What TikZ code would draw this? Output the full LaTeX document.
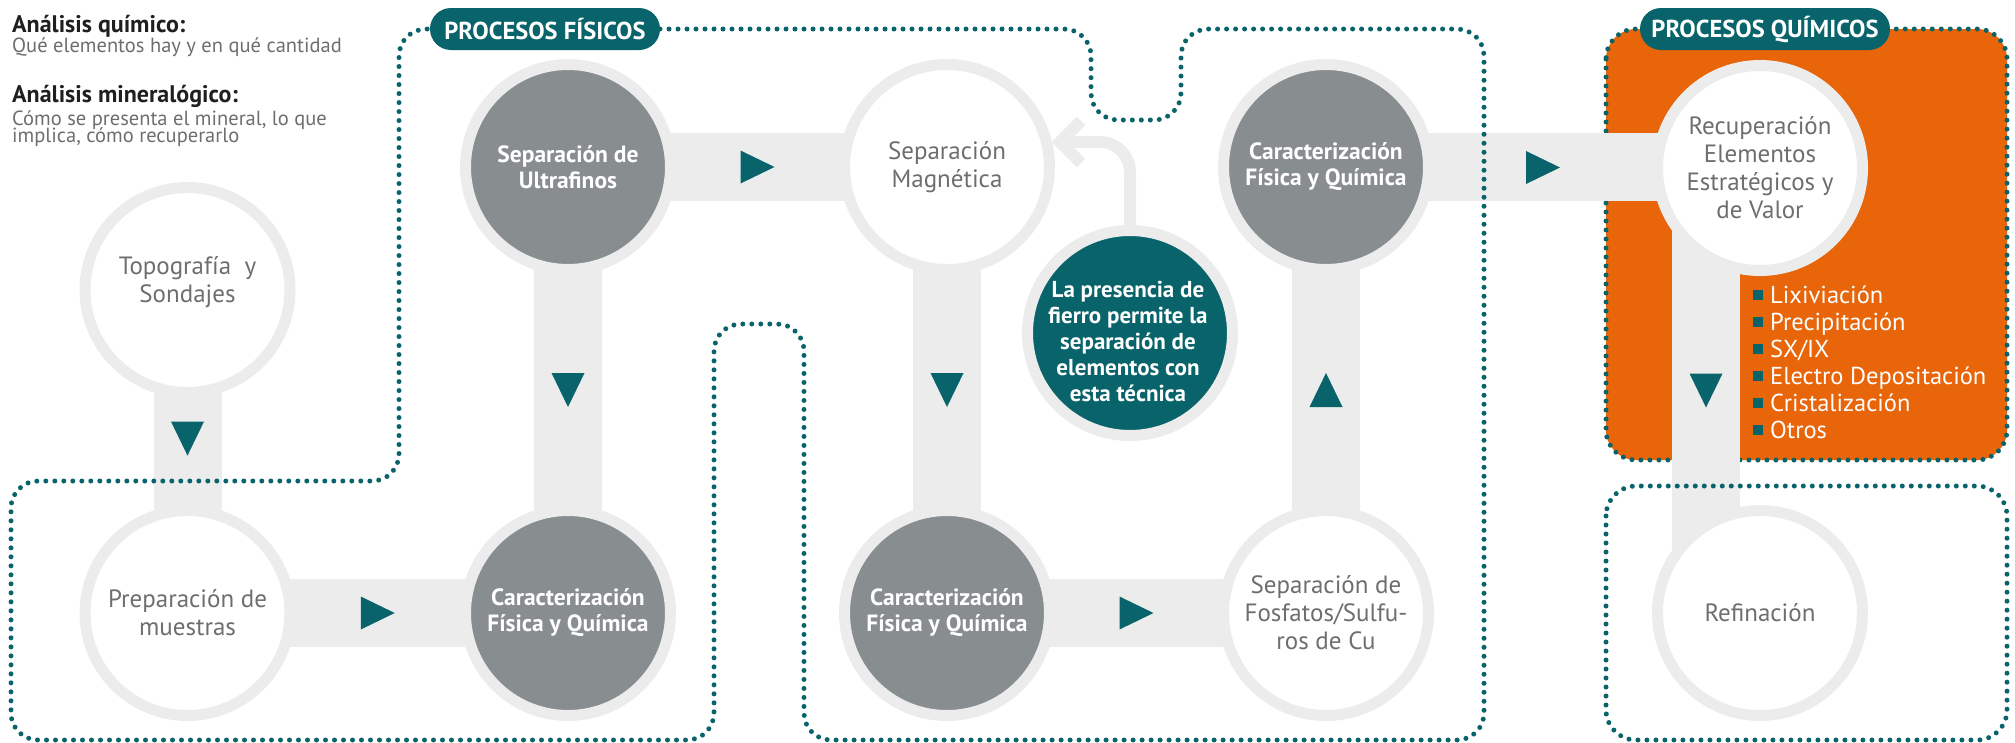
\documentclass[tikz,border=0pt]{standalone}
\usepackage{fontspec}
\setmainfont{PT Sans}
\usetikzlibrary{calc}
\definecolor{tealc}{HTML}{08646A}
\definecolor{ringc}{HTML}{ECECEC}
\definecolor{grayc}{HTML}{888D90}
\definecolor{txtgray}{HTML}{6D6E70}
\definecolor{orangec}{HTML}{E8650A}
\pgfdeclarelayer{bg}
\pgfdeclarelayer{bars}
\pgfsetlayers{bg,bars,main}
\begin{document}
\begin{tikzpicture}[x=1pt,y=-1pt,
  stage/.style={circle, minimum size=205pt, inner sep=0pt, draw=ringc, line width=11pt, align=center},
  whitefont/.style={text=txtgray, font=\fontsize{25}{28}\selectfont},
  whitest/.style={stage, fill=white, whitefont},
  grayst/.style={stage, fill=grayc, text=white, font=\bfseries\fontsize{23.5}{26}\selectfont},
  tealfont/.style={text=white, font=\bfseries\fontsize{23}{26}\selectfont},
  tealst/.style={stage, fill=tealc},
  bodytext/.style={inner sep=0pt, align=center},
  bar/.style={draw=ringc, line width=68pt},
  hookline/.style={draw=ringc, line width=12pt},
  dotline/.style={draw=tealc, line width=5pt, line cap=round, dash pattern=on 0pt off 9pt},
  pill/.style={fill=tealc, text=white, rounded corners=21pt, minimum height=42pt, inner sep=0pt, font=\bfseries\fontsize{24.5}{27}\selectfont},
  listitem/.style={anchor=base west, inner sep=0pt, text=white, font=\fontsize{24.5}{27}\selectfont},
  title/.style={anchor=base west, inner sep=0pt, text=black!88, font=\bfseries\fontsize{24}{27}\selectfont},
  subtitle/.style={anchor=base west, inner sep=0pt, text=txtgray, font=\fontsize{20.5}{22}\selectfont},
  tri/.pic={\fill[tealc] (17,0) -- (-17,-16.5) -- (-17,16.5) -- cycle;}
]
\useasboundingbox (0,0) rectangle (2015,742);

% orange chemical box (below bars)
\begin{pgfonlayer}{bg}
  \draw[dotline, fill=orangec, rounded corners=30pt] (1606,29) rectangle (2007,460);
\end{pgfonlayer}

% stages
\node[whitest] (topo)  at (187.5,290) {};
\node[bodytext, whitefont] (topot) at (187.5,282) {Topografía~~y\\Sondajes};
\node[whitest] (prep)  at (187.5,613) {Preparación de\\muestras};
\node[grayst]  (car1)  at (568,613)   {Caracterización\\Física y Química};
\node[grayst]  (ultra) at (568,167)   {Separación de\\Ultrafinos};
\node[whitest] (mag)   at (947,167)   {Separación\\Magnética};
\node[grayst]  (car2)  at (947,613)   {Caracterización\\Física y Química};
\node[tealst]  (tealn) at (1130,333)  {};
\node[bodytext, tealfont] (tealt) at (1128,341) {La presencia de\\fierro permite la\\separación de\\elementos con\\esta técnica};
\node[grayst]  (car3)  at (1326,167)  {Caracterización\\Física y Química};
\node[whitest] (fosf)  at (1326,613)  {Separación de\\Fosfatos/Sulfu-\\ros de Cu};
\node[whitest] (recup) at (1760,168)  {Recuperación\\Elementos\\Estratégicos y\\de Valor};
\node[whitest] (refin) at (1760,613)  {Refinación};

% connecting bars
\begin{pgfonlayer}{bars}
  \draw[bar] (topo.center) -- (prep.center);
  \draw[bar] (prep.center) -- (car1.center);
  \draw[bar] (car1.center) -- (ultra.center);
  \draw[bar] (ultra.center) -- (mag.center);
  \draw[bar] (mag.center) -- (car2.center);
  \draw[bar] (car2.center) -- (fosf.center);
  \draw[bar] (fosf.center) -- (car3.center);
  \draw[bar] (car3.center) -- (car3.center -| recup.center);
  \draw[bar] ($(recup.center)+(-54,0)$) -- ($(refin.center)+(-54,0)$);
  \draw[hookline, rounded corners=30pt] (tealn.center) |- ($(mag.center)+(112,-25)$);
  \draw[hookline] ($(mag.center)+(134,-46)$) -- ($(mag.center)+(113,-25)$) -- ($(mag.center)+(134,-4)$);
\end{pgfonlayer}

% flow triangles
\pic[rotate=-90] at ($(topo.center)!0.46!(prep.center)$) {tri};
\pic at ($(prep.center)!0.5!(car1.center)$) {tri};
\pic[rotate=-90] at ($(ultra.center)!0.5!(car1.center)$) {tri};
\pic at ($(ultra.center)!0.5!(mag.center)$) {tri};
\pic[rotate=-90] at ($(mag.center)!0.5!(car2.center)$) {tri};
\pic at ($(car2.center)!0.5!(fosf.center)$) {tri};
\pic[rotate=90] at ($(fosf.center)!0.5!(car3.center)$) {tri};
\pic at ($(car3.center)!0.5!(recup.center)$) {tri};
\pic[rotate=-90] at ($(recup.center)!0.5!(refin.center)+(-54,0)$) {tri};

% physical processes outline
\draw[dotline, rounded corners=27pt] (660,29) -- (1091,29) -- (1091,120) -- (1181,120) -- (1181,29)
  -- (1484,29) -- (1484,740) -- (804,740) -- (804,324) -- (714,324) -- (714,740)
  -- (11,740) -- (11,481) -- (399,481) -- (399,29) -- (430,29);

% refining outline
\draw[dotline, rounded corners=30pt] (1606,486) rectangle (2007,740);

% labels
\node[pill, minimum width=230pt] (lphys) at (545,29) {PROCESOS FÍSICOS};
\node[pill, minimum width=250pt] (lchem) at (1765,29) {PROCESOS QUÍMICOS};

% chemical process list
\foreach \t [count=\i] in {Lixiviación, Precipitación, SX/IX, Electro Depositación, Cristalización, Otros}{
  \node[listitem] (li\i) at (1753, {303+27*(\i-1)}) {\textcolor{tealc}{\rule[3pt]{10pt}{10pt}}\hspace{7pt}\t};
}

% top-left notes
\node[title] (n1) at (12,32) {Análisis químico:};
\node[subtitle] (n2) at (12,52) {Qué elementos hay y en qué cantidad};
\node[title] (n3) at (12,102) {Análisis mineralógico:};
\node[subtitle] (n4) at (12,125) {Cómo se presenta el mineral, lo que};
\node[subtitle] (n5) at (12,142) {implica, cómo recuperarlo};
\end{tikzpicture}
\end{document}
